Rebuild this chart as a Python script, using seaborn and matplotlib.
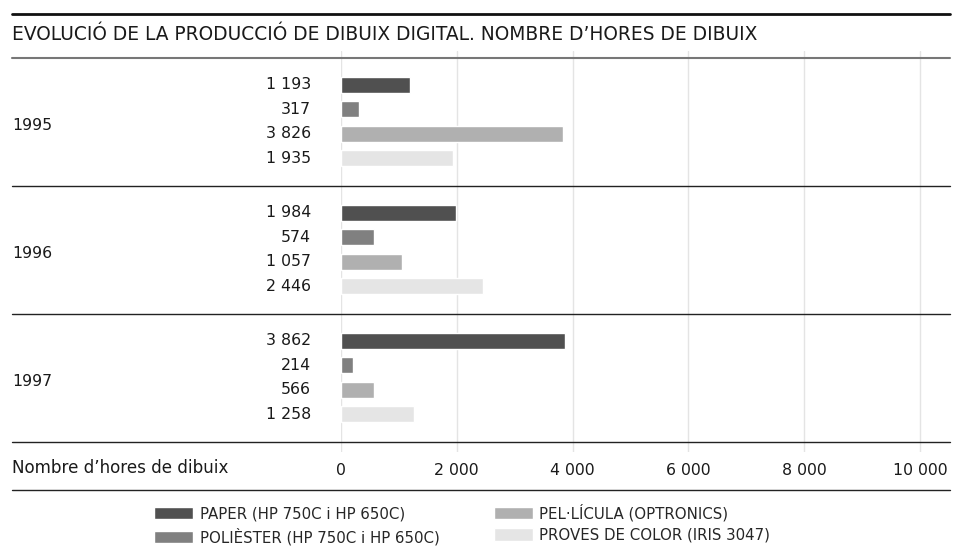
import pandas as pd
import matplotlib.pyplot as plt
import seaborn as sns
from matplotlib.lines import Line2D

# --- data ---
years = ['1995', '1996', '1997']
media = ['PAPER (HP 750C i HP 650C)', 'POLIÈSTER (HP 750C i HP 650C)',
         'PEL·LÍCULA (OPTRONICS)', 'PROVES DE COLOR (IRIS 3047)']
paper = [1193, 1984, 3862]
poliester = [317, 574, 214]
pellicula = [3826, 1057, 566]
proves = [1935, 2446, 1258]
ticks = [0, 2000, 4000, 6000, 8000, 10000]
colors = ['#505050', '#808080', '#b0b0b0', '#e5e5e5']

title = 'EVOLUCIÓ DE LA PRODUCCIÓ DE DIBUIX DIGITAL. NOMBRE D\u2019HORES DE DIBUIX'
xlabel = 'Nombre d\u2019hores de dibuix'

rows = []
for m, vals in zip(media, [paper, poliester, pellicula, proves]):
    for y, v in zip(years, vals):
        rows.append({'year': y, 'media': m, 'hours': v})
df = pd.DataFrame(rows)

def fmt(v):
    return f'{v:,}'.replace(',', ' ')

sns.set_style('white')
plt.rcParams['font.family'] = ['DejaVu Sans']
FS = 11.3
TXT = '#1a1a1a'

W, H = 954, 550
fig = plt.figure(figsize=(W / 100, H / 100), dpi=100)
ax = fig.add_axes([341 / W, (H - 452) / H, 609 / W, 401 / H])

sns.barplot(data=df, y='year', x='hours', hue='media', order=years,
            hue_order=media, palette=colors, orient='h', width=0.766,
            gap=0.35, saturation=1, ax=ax, legend=True)

ax.set_xlim(0, 10518)
ax.set_ylim(2.582, -0.551)
ax.set_xticks(ticks)
ax.set_xticklabels([fmt(t) for t in ticks], fontsize=FS, color=TXT)
ax.tick_params(axis='x', length=0, pad=8)
ax.set_yticks([])
ax.set_xlabel('')
ax.set_ylabel('')
for s in ax.spines.values():
    s.set_visible(False)
ax.grid(axis='x', color='#e4e4e4', linewidth=1)
ax.grid(axis='y', visible=False)
ax.set_axisbelow(True)

# value labels
for cont, vals in zip(ax.containers, [paper, poliester, pellicula, proves]):
    for bar, v in zip(cont, vals):
        yc = bar.get_y() + bar.get_height() / 2
        ax.text(-0.049, yc, fmt(v), transform=ax.get_yaxis_transform(),
                ha='right', va='center', fontsize=FS, color=TXT, clip_on=False)

# year labels
xl = (12 - 341) / 609
for i, y in enumerate(years):
    ax.text(xl, i + 0.03, y, transform=ax.get_yaxis_transform(), ha='left',
            va='center', fontsize=FS, color=TXT, clip_on=False)

# separator rules
xr = (950 - 341) / 609
ax.axhline(-0.5, xmin=xl, xmax=xr, color='#777777', linewidth=1.5, clip_on=False)
for yy in [0.5, 1.5, 2.5]:
    ax.axhline(yy, xmin=xl, xmax=xr, color='#222222', linewidth=1, clip_on=False)

fig.add_artist(Line2D([12 / W, 950 / W], [(H - 14) / H] * 2, color='#111111',
                      linewidth=2, transform=fig.transFigure))
fig.add_artist(Line2D([12 / W, 950 / W], [(H - 490) / H] * 2, color='#222222',
                      linewidth=1, transform=fig.transFigure))

fig.text(12 / W, (H - 35) / H, title, ha='left', va='center', fontsize=13.4, color=TXT)
fig.text(12 / W, (H - 468) / H, xlabel, ha='left', va='center', fontsize=12.1, color=TXT)

# legend
ax.get_legend().remove()
handles, labels = ax.get_legend_handles_labels()
fig.legend(handles, labels, ncol=2, loc='center left', bbox_to_anchor=(154 / W, (H - 524.5) / H),
           frameon=False, fontsize=10.8, handlelength=2.6, handleheight=0.9,
           handletextpad=0.45, columnspacing=3.6, labelspacing=0.45, borderpad=0,
           borderaxespad=0)

fig.savefig('out.png', dpi=100)
